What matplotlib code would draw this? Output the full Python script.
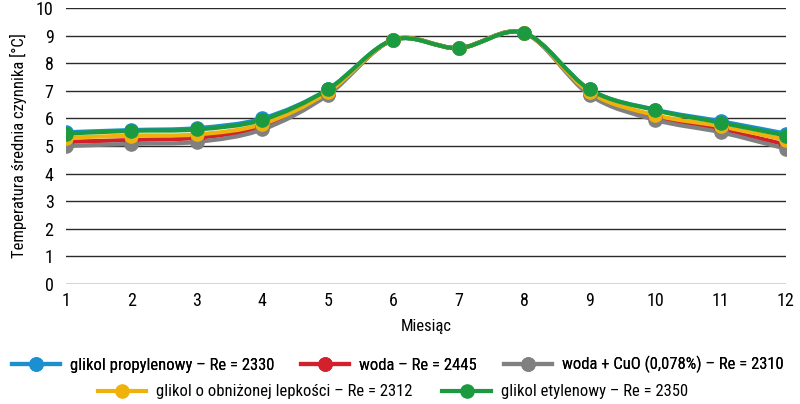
import matplotlib.pyplot as plt
import numpy as np
from matplotlib.path import Path
from matplotlib.patches import PathPatch
from matplotlib.lines import Line2D

plt.rcParams['font.family'] = ['Roboto Condensed', 'DejaVu Sans']

months = [1, 2, 3, 4, 5, 6, 7, 8, 9, 10, 11, 12]
propylen = [5.50, 5.58, 5.65, 6.00, 7.05, 8.85, 8.55, 9.10, 7.05, 6.32, 5.90, 5.45]
woda = [5.15, 5.22, 5.30, 5.70, 6.90, 8.85, 8.55, 9.10, 6.90, 6.05, 5.60, 5.05]
woda_cuo = [5.00, 5.08, 5.15, 5.60, 6.85, 8.85, 8.55, 9.10, 6.85, 5.95, 5.50, 4.90]
obnizona = [5.30, 5.38, 5.42, 5.80, 6.95, 8.85, 8.55, 9.10, 6.95, 6.12, 5.72, 5.22]
etylen = [5.45, 5.55, 5.60, 5.95, 7.05, 8.85, 8.55, 9.10, 7.05, 6.30, 5.85, 5.38]

labels = ['glikol propylenowy – Re = 2330', 'woda – Re = 2445',
          'woda + CuO (0,078%) – Re = 2310',
          'glikol o obniżonej lepkości – Re = 2312', 'glikol etylenowy – Re = 2350']
colors = ['#1b8fd0', '#d2202c', '#808080', '#efb20c', '#1c9a40']
series = [propylen, woda, woda_cuo, obnizona, etylen]


def smooth_path(x, y):
    # smoothed line like in Excel: cubic bezier through the data points
    x = np.asarray(x, float)
    y = np.asarray(y, float)
    verts = [(x[0], y[0])]
    codes = [Path.MOVETO]
    n = len(x)
    for i in range(n - 1):
        p0 = (x[max(i - 1, 0)], y[max(i - 1, 0)])
        p1 = (x[i], y[i])
        p2 = (x[i + 1], y[i + 1])
        p3 = (x[min(i + 2, n - 1)], y[min(i + 2, n - 1)])
        t = 1 / 6
        c1 = (p1[0] + (p2[0] - p0[0]) * t, p1[1] + (p2[1] - p0[1]) * t)
        c2 = (p2[0] - (p3[0] - p1[0]) * t, p2[1] - (p3[1] - p1[1]) * t)
        verts += [c1, c2, p2]
        codes += [Path.CURVE4] * 3
    return Path(verts, codes)


fig = plt.figure(figsize=(8, 4.04), dpi=100)
ax = fig.add_axes([0.0825, 0.297, 0.9, 0.683])

for vals, c in zip(series, colors):
    ax.add_patch(PathPatch(smooth_path(months, vals), facecolor='none',
                           edgecolor=c, lw=3.0, zorder=3, capstyle='round'))
    ax.plot(months, vals, 'o', color=c, markersize=9.5, zorder=4)

ax.set_xlim(1, 12)
ax.set_ylim(0, 10)
ax.set_xticks(months)
ax.set_yticks(range(0, 11))
ax.grid(axis='y', color='#2a2a2a', lw=1.0)
ax.set_axisbelow(True)
for s in ax.spines.values():
    s.set_visible(False)
ax.tick_params(length=0, labelsize=13)
ax.tick_params(axis='x', pad=6)
ax.tick_params(axis='y', pad=9)
ax.set_xlabel('Miesiąc', fontsize=12, labelpad=6)
ax.set_ylabel('Temperatura średnia czynnika [°C]', fontsize=12, labelpad=6)

handles = [Line2D([], [], color=c, lw=3.0, marker='o', markersize=9.5) for c in colors]
leg1 = fig.legend(handles[:3], labels[:3], loc='center', ncol=3,
                  bbox_to_anchor=(0.497, 0.097), frameon=False, fontsize=12,
                  handlelength=2.9, columnspacing=1.6, handletextpad=0.6,
                  borderpad=0, borderaxespad=0)
leg2 = fig.legend(handles[3:], labels[3:], loc='center', ncol=2,
                  bbox_to_anchor=(0.491, 0.03), frameon=False, fontsize=12,
                  handlelength=2.9, columnspacing=1.8, handletextpad=0.6,
                  borderpad=0, borderaxespad=0)
fig.add_artist(leg1)

plt.savefig('out.png')
